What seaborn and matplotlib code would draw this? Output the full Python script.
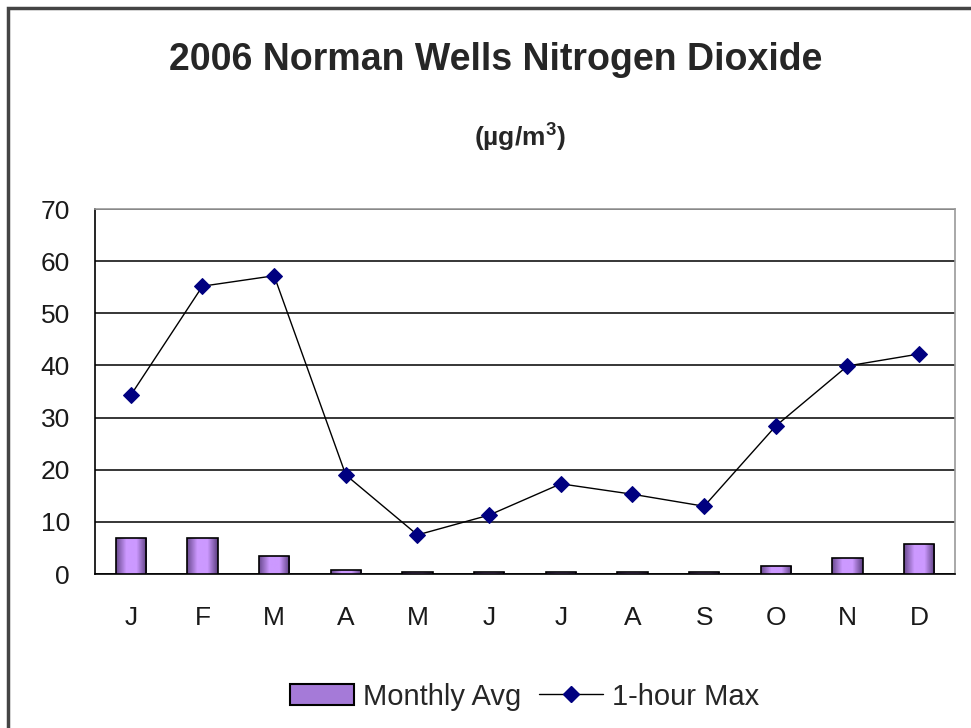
import numpy as np
import pandas as pd
import matplotlib
matplotlib.use("Agg")
import matplotlib.pyplot as plt
import matplotlib.patches as mpatches
from matplotlib.lines import Line2D
from matplotlib.colors import LinearSegmentedColormap
import seaborn as sns

months = ["J", "F", "M", "A", "M", "J", "J", "A", "S", "O", "N", "D"]
monthly_avg = [6.9, 6.9, 3.5, 0.8, 0.4, 0.4, 0.4, 0.4, 0.4, 1.5, 3.0, 5.7]
hour_max = [34.3, 55.2, 57.2, 19.0, 7.5, 11.3, 17.3, 15.3, 13.0, 28.4, 39.9, 42.2]

sns.set_style("white")
plt.rcParams["font.family"] = ["Liberation Sans", "DejaVu Sans"]

df = pd.DataFrame({"pos": np.arange(len(months)), "avg": monthly_avg, "max": hour_max})

fig = plt.figure(figsize=(9.71, 7.28), dpi=100)
ax = fig.add_axes([0.0978, 0.2115, 0.8857, 0.5014])

sns.barplot(data=df, x="pos", y="avg", color="#c496fa", width=0.42,
            edgecolor="black", linewidth=1.2, ax=ax, zorder=3)

# gradient fill like the old spreadsheet bars
cmap = LinearSegmentedColormap.from_list("bar", ["#6a4a90", "#cc99ff", "#cc99ff", "#5c3f80"])
grad = np.linspace(0, 1, 64).reshape(1, -1)
for bar in ax.patches:
    x0, w, h = bar.get_x(), bar.get_width(), bar.get_height()
    im = ax.imshow(grad, cmap=cmap, aspect="auto", extent=[x0, x0 + w, 0, h], zorder=3)
    im.set_clip_path(bar)
    bar.set_facecolor("none")
    bar.set_zorder(4)

sns.lineplot(data=df, x="pos", y="max", color="black", linewidth=1,
             marker="D", markersize=8, markerfacecolor="#000080",
             markeredgecolor="#000080", ax=ax, zorder=5)

ax.set_xlim(-0.5, 11.5)
ax.set_ylim(0, 70)
ax.set_yticks(range(0, 71, 10))
ax.set_xticks(range(12))
ax.set_xticklabels(months)
ax.set_xticks(np.arange(-0.5, 12, 1), minor=True)
ax.tick_params(axis="x", which="major", length=0, pad=23, labelsize=19, colors="#1a1a1a")
ax.tick_params(axis="x", which="minor", length=9, width=1.2, direction="out", color="black")
ax.tick_params(axis="y", length=9, width=1.2, direction="out", pad=9, labelsize=19,
               color="black", labelcolor="#1a1a1a")
ax.grid(axis="y", color="black", linewidth=1.1, zorder=0)
ax.set_axisbelow(True)
ax.set_xlabel("")
ax.set_ylabel("")
for side in ["left", "bottom"]:
    ax.spines[side].set_color("black")
    ax.spines[side].set_linewidth(1.2)
for side in ["top", "right"]:
    ax.spines[side].set_color("#999999")
    ax.spines[side].set_linewidth(1.2)

fig.text(0.511, 0.918, "2006 Norman Wells Nitrogen Dioxide", ha="center", va="center",
         fontsize=27, fontweight="bold")
fig.text(0.535, 0.813, "(µg/m$^{\\mathregular{3}}$)", ha="center", va="center",
         fontsize=19, fontweight="bold")

bar_handle = mpatches.Patch(facecolor="#a57ad8", edgecolor="black", linewidth=1.5)
line_handle = Line2D([], [], color="black", linewidth=1, marker="D", markersize=8,
                     markerfacecolor="#000080", markeredgecolor="#000080")
fig.legend([bar_handle, line_handle], ["Monthly Avg", "1-hour Max"], loc="center",
           bbox_to_anchor=(0.54, 0.043), ncol=2, frameon=False, fontsize=21,
           handlelength=2.2, handletextpad=0.3, columnspacing=0.6)

# outer frame of the chart (cut off on the right and bottom)
fig.patches.append(mpatches.Rectangle((8 / 971, -0.05), 1.1, (728 - 8) / 728 + 0.05,
                                      transform=fig.transFigure, fill=False,
                                      edgecolor="#444444", linewidth=2.5))

fig.savefig("out.png", dpi=100)
